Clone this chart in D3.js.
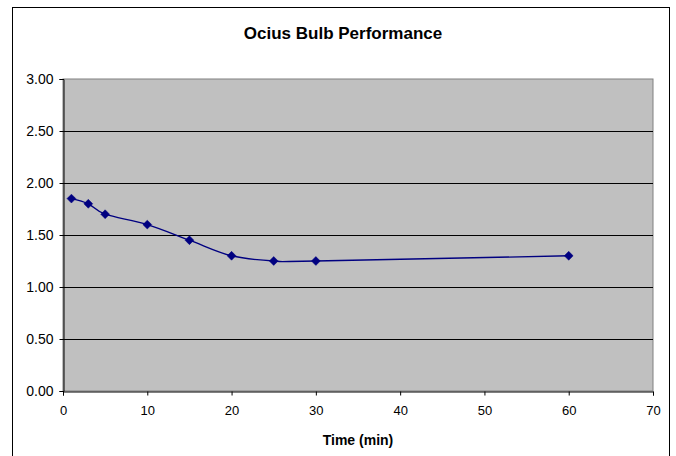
<!DOCTYPE html>
<html>
<head>
  <meta charset="UTF-8">
  <style>
    body { margin: 0; background: #fff; }
    .title { font-family: 'Liberation Sans', Arial, sans-serif; font-size: 17px; font-weight: bold; text-anchor: middle; }
    .axis-label { font-family: 'Liberation Sans', Arial, sans-serif; font-size: 14px; font-weight: bold; text-anchor: middle; }
  </style>
</head>
<body>
  <script src="https://d3js.org/d3.v7.min.js"></script>
  <svg id="chart" width="676" height="456"></svg>
  <script>
    // data
    let times = [1, 3, 5, 10, 15, 20, 25, 30, 60];
    let values = [1.85, 1.80, 1.70, 1.60, 1.45, 1.30, 1.25, 1.25, 1.30];
    let xTicks = [0, 10, 20, 30, 40, 50, 60, 70];
    let yTicks = [0, 0.5, 1, 1.5, 2, 2.5, 3];

    let margin = {top: 79, right: 23, bottom: 65, left: 63},
      width = 676 - margin.left - margin.right,
      height = 456 - margin.top - margin.bottom;

    let root = d3.select("#chart");

    // outer chart border
    root.append("rect")
      .attr("x", 12.5).attr("y", 7.5)
      .attr("width", 657).attr("height", 460)
      .attr("fill", "#fff")
      .attr("stroke", "#000");

    root.append("text")
      .attr("class", "title")
      .attr("x", 343).attr("y", 39)
      .text("Ocius Bulb Performance");

    let svg = root.append("g")
      .attr("transform", "translate(" + margin.left + "," + margin.top + ")");

    let x = d3.scaleLinear().domain([0, 70]).range([0, width]);
    let y = d3.scaleLinear().domain([0, 3]).range([height, 0]);

    // plot area
    svg.append("rect")
      .attr("width", width).attr("height", height)
      .attr("fill", "#c0c0c0")
      .attr("stroke", "#808080");

    // gridlines
    svg.selectAll("grid")
      .data(yTicks.filter(d => d > 0 && d < 3))
      .enter()
      .append("line")
        .attr("x1", 0).attr("x2", width)
        .attr("y1", d => Math.round(y(d)) + 0.5)
        .attr("y2", d => Math.round(y(d)) + 0.5)
        .attr("stroke", "#000");

    // Y axis
    svg.append("g")
      .attr("transform", "translate(0.5,0)")
      .call(d3.axisLeft(y).tickValues(yTicks).tickFormat(d3.format(".2f")).tickSizeOuter(0).tickSize(4).tickPadding(6))
      .attr("font-size", 14)
      .attr("font-family", "'Liberation Sans', Arial, sans-serif");

    // X axis
    svg.append("g")
      .attr("transform", "translate(0," + (height + 0.5) + ")")
      .call(d3.axisBottom(x).tickValues(xTicks).tickSizeOuter(0).tickSize(4).tickPadding(10))
      .attr("font-size", 13)
      .attr("font-family", "'Liberation Sans', Arial, sans-serif");

    svg.append("text")
      .attr("class", "axis-label")
      .attr("x", width / 2)
      .attr("y", height + 54)
      .text("Time (min)");

    let pts = times.map((t, i) => [t, values[i]]);

    svg.append("path")
      .datum(pts)
      .attr("fill", "none")
      .attr("stroke", "#000080")
      .attr("stroke-width", 1.4)
      .attr("d", d3.line()
        .x(d => x(d[0]))
        .y(d => y(d[1]))
        .curve(d3.curveCatmullRom.alpha(0)));

    svg.selectAll("marker")
      .data(pts)
      .enter()
      .append("path")
        .attr("transform", d => "translate(" + x(d[0]) + "," + y(d[1]) + ")")
        .attr("d", d3.symbol().type(d3.symbolDiamond2).size(50))
        .attr("fill", "#000080")
        .attr("stroke", "#000080")
        .attr("stroke-width", 0.5);
  </script>
</body>
</html>
